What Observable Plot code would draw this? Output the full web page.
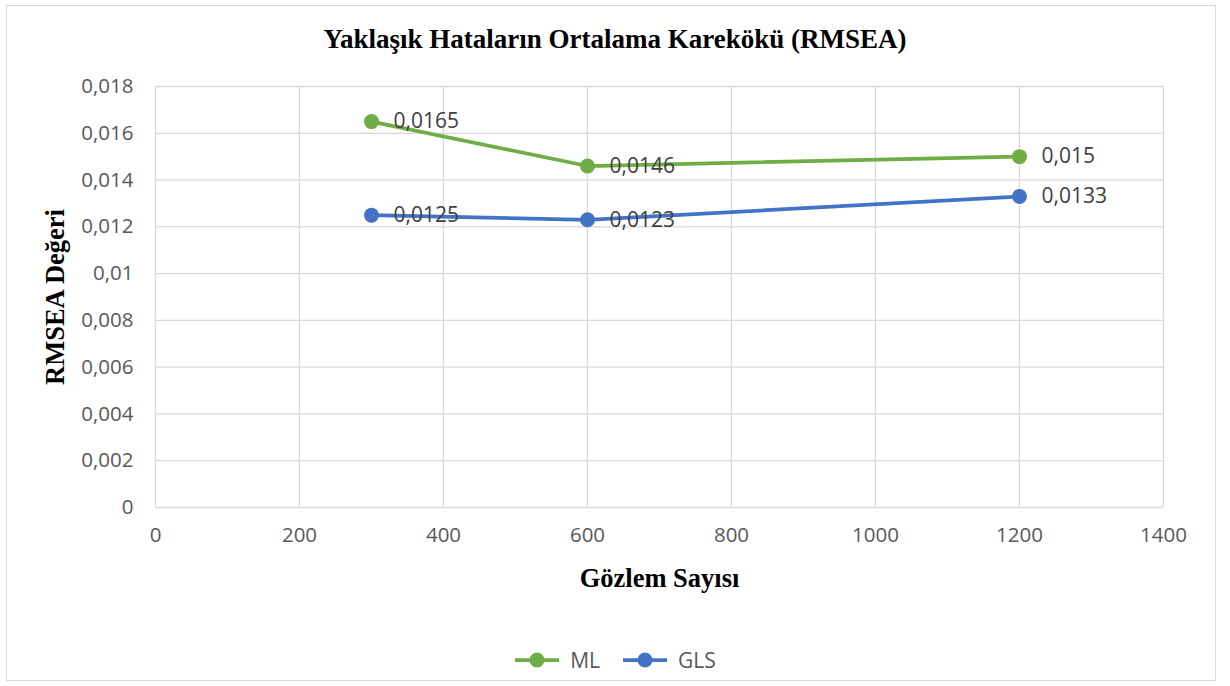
<!DOCTYPE html>
<html><head><meta charset="utf-8">
<script src="https://cdn.jsdelivr.net/npm/d3@7"></script>
<script src="https://cdn.jsdelivr.net/npm/@observablehq/plot@0.6"></script>
<style>
html, body { margin: 0; padding: 0; background: #fff; }
body { width: 1230px; height: 686px; overflow: hidden; position: relative; }
#frame { position: absolute; left: 6px; top: 5px; width: 1208px; height: 674px; border: 1px solid #d9d9d9; pointer-events: none; }
#title { height: 70px; box-sizing: border-box; padding-top: 25px; line-height: 28px; text-align: center; font-family: "Liberation Serif", serif; font-weight: bold; font-size: 27px; color: #000; }
#chart svg { display: block; }
#legend { height: 86px; box-sizing: border-box; padding-top: 34px; display: flex; justify-content: center; align-items: center; gap: 22px; font-family: "Open Sans", sans-serif; font-size: 21px; color: #595959; line-height: 24px; }
#legend .item { display: flex; align-items: center; gap: 10px; }
g[aria-label="x-axis label"], g[aria-label="y-axis label"] { font-family: "Liberation Serif", serif !important; font-weight: bold !important; font-size: 26.5px !important; fill: #000 !important; color: #000 !important; }
</style>
</head><body>
<div id="frame"></div>
<div id="title">Yaklaşık Hataların Ortalama Karekökü (RMSEA)</div>
<div id="chart"></div>
<div id="legend"></div>
<script>
const sampleSizes = [300, 600, 1200];
const mlValues = [0.0165, 0.0146, 0.015];
const glsValues = [0.0125, 0.0123, 0.0133];
const seriesNames = ["ML", "GLS"];
const seriesColors = ["#70AD47", "#4472C4"];
const xTicks = [0, 200, 400, 600, 800, 1000, 1200, 1400];
const yTicks = [0, 0.002, 0.004, 0.006, 0.008, 0.01, 0.012, 0.014, 0.016, 0.018];
const xTitle = "Gözlem Sayısı";
const yTitle = "RMSEA Değeri";

const fmt = d => String(d).replace(".", ",");
const seriesValues = [mlValues, glsValues];
const rows = seriesNames.flatMap((s, i) => sampleSizes.map((n, j) => ({series: s, n, value: seriesValues[i][j]})));

const chart = Plot.plot({
  width: 1230, height: 530,
  marginLeft: 155, marginRight: 67, marginTop: 16, marginBottom: 93,
  x: {domain: [0, 1400]},
  y: {domain: [0, 0.018]},
  color: {domain: seriesNames, range: seriesColors},
  style: {fontFamily: "'Open Sans', sans-serif", color: "#595959", background: "white", overflow: "visible"},
  marks: [
    Plot.gridX(xTicks, {stroke: "#d9d9d9", strokeOpacity: 1, strokeWidth: 1.3}),
    Plot.gridY(yTicks, {stroke: "#d9d9d9", strokeOpacity: 1, strokeWidth: 1.3}),
    Plot.axisX(xTicks, {tickSize: 0, tickPadding: 20, tickFormat: fmt, fontSize: 20.5, label: xTitle, labelAnchor: "center", labelOffset: 79, labelArrow: "none"}),
    Plot.axisY(yTicks, {tickSize: 0, tickPadding: 22, tickFormat: fmt, fontSize: 20.5, label: yTitle, labelAnchor: "center", labelOffset: 110, labelArrow: "none"}),
    Plot.line(rows, {x: "n", y: "value", z: "series", stroke: "series", strokeWidth: 3.75}),
    Plot.dot(rows, {x: "n", y: "value", fill: "series", r: 7.5}),
    Plot.text(rows, {x: "n", y: "value", text: d => fmt(d.value), dx: 22, textAnchor: "start", fill: "#404040", fontSize: 21})
  ]
});
document.getElementById("chart").appendChild(chart);

const legend = document.getElementById("legend");
seriesNames.forEach((s, i) => {
  const item = document.createElement("div");
  item.className = "item";
  item.innerHTML = `<svg width="46" height="16"><line x1="1" y1="8" x2="45" y2="8" stroke="${seriesColors[i]}" stroke-width="3.75"/><circle cx="23" cy="8" r="7.5" fill="${seriesColors[i]}"/></svg>`;
  const span = document.createElement("span");
  span.textContent = s;
  item.appendChild(span);
  legend.appendChild(item);
});
</script>
</body></html>
